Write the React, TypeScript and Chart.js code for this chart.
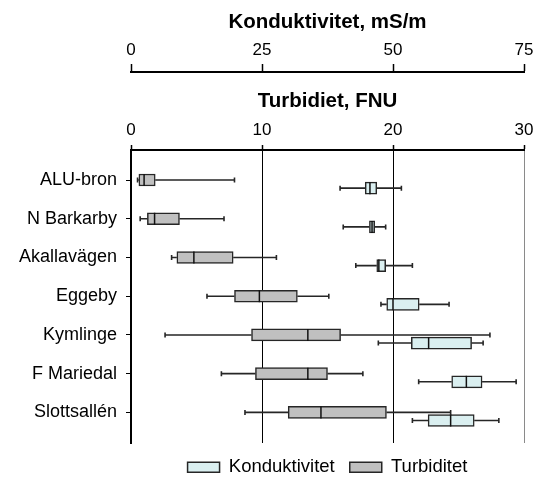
import React, { useEffect, useRef } from 'react';
import { Chart, registerables } from 'chart.js';

Chart.register(...registerables);

const categories = ['ALU-bron', 'N Barkarby', 'Akallavägen', 'Eggeby', 'Kymlinge', 'F Mariedal', 'Slottsallén'];

// Turbiditet, FNU
const turbMin = [0.5, 0.7, 3.1, 5.8, 2.6, 6.9, 8.7];
const turbQ1 = [0.6, 1.25, 3.5, 7.9, 9.2, 9.5, 12.0];
const turbMed = [1.0, 1.8, 4.8, 9.8, 13.5, 13.5, 14.5];
const turbQ3 = [1.85, 3.7, 7.8, 12.7, 16.0, 15.0, 19.5];
const turbMax = [7.9, 7.1, 11.1, 15.1, 27.4, 17.7, 24.4];

// Konduktivitet, mS/m
const condMin = [39.9, 40.5, 42.9, 47.7, 47.2, 54.9, 53.7];
const condQ1 = [44.7, 45.5, 46.9, 48.8, 53.5, 61.2, 56.7];
const condMed = [45.6, 46.0, 47.3, 50.0, 56.8, 64.0, 61.0];
const condQ3 = [46.9, 46.5, 48.6, 55.0, 65.0, 67.0, 65.5];
const condMax = [51.6, 48.6, 53.7, 60.7, 67.2, 73.5, 70.2];

const turbTicks = [0, 10, 20, 30];
const condTicks = [0, 25, 50, 75];

const COND_OFFSET = 0.21;

const whiskerPlugin = {
  id: 'boxWhiskers',
  afterDatasetsDraw(chart: any) {
    const ctx = chart.ctx;
    const series = [
      { ds: 0, axis: 'x2', min: condMin, med: condMed, max: condMax, q1: condQ1, q3: condQ3 },
      { ds: 1, axis: 'x', min: turbMin, med: turbMed, max: turbMax, q1: turbQ1, q3: turbQ3 },
    ];
    ctx.save();
    series.forEach((s) => {
      const xs = chart.scales[s.axis];
      const meta = chart.getDatasetMeta(s.ds);
      meta.data.forEach((bar: any, i: number) => {
        const { y, height } = bar.getProps(['y', 'height'], true);
        const top = y - height / 2;
        const bottom = y + height / 2;
        const pMin = xs.getPixelForValue(s.min[i]);
        const pQ1 = xs.getPixelForValue(s.q1[i]);
        const pMed = xs.getPixelForValue(s.med[i]);
        const pQ3 = xs.getPixelForValue(s.q3[i]);
        const pMax = xs.getPixelForValue(s.max[i]);
        ctx.strokeStyle = '#262626';
        ctx.lineWidth = 1.6;
        ctx.beginPath();
        ctx.moveTo(pMin, y);
        ctx.lineTo(pQ1, y);
        ctx.moveTo(pQ3, y);
        ctx.lineTo(pMax, y);
        ctx.moveTo(pMin, y - 2.5);
        ctx.lineTo(pMin, y + 2.5);
        ctx.moveTo(pMax, y - 2.5);
        ctx.lineTo(pMax, y + 2.5);
        ctx.stroke();
        ctx.strokeStyle = '#111';
        ctx.lineWidth = 1.5;
        ctx.beginPath();
        ctx.moveTo(pMed, top);
        ctx.lineTo(pMed, bottom);
        ctx.stroke();
      });
    });
    ctx.restore();
  },
};

export default function App() {
  const canvasRef = useRef<HTMLCanvasElement | null>(null);

  useEffect(() => {
    if (!canvasRef.current) return;
    Chart.defaults.font.family = "'Liberation Sans', Arial, sans-serif";
    Chart.defaults.color = '#000';
    const chart = new Chart(canvasRef.current, {
      type: 'bar',
      data: {
        datasets: [
          {
            label: 'Konduktivitet',
            xAxisID: 'x2',
            yAxisID: 'y',
            data: categories.map((_, i) => ({ y: i + COND_OFFSET, x: [condQ1[i], condQ3[i]] })) as any,
            backgroundColor: '#DAEFF0',
            borderColor: '#262626',
            borderWidth: 1.5,
            borderSkipped: false,
            barThickness: 12,
            grouped: false,
          } as any,
          {
            label: 'Turbiditet',
            xAxisID: 'x',
            yAxisID: 'y',
            data: categories.map((_, i) => ({ y: i, x: [turbQ1[i], turbQ3[i]] })) as any,
            backgroundColor: '#C0C0C0',
            borderColor: '#262626',
            borderWidth: 1.5,
            borderSkipped: false,
            barThickness: 12,
            grouped: false,
          } as any,
        ],
      },
      options: {
        indexAxis: 'y',
        animation: false,
        responsive: false,
        devicePixelRatio: 1,
        layout: { padding: { top: 0, left: 0, right: 19, bottom: -9.5 } },
        plugins: {
          tooltip: { enabled: false },
          legend: {
            position: 'bottom',
            fullSize: false,
            labels: {
              boxWidth: 32,
              boxHeight: 10,
              padding: 15,
              color: '#000',
              font: { size: 18.5 },
            },
          },
        },
        scales: {
          x: {
            type: 'linear',
            position: 'top',
            weight: 0,
            min: 0,
            max: 30,
            afterBuildTicks: (s: any) => {
              s.ticks = turbTicks.map((v) => ({ value: v }));
            },
            ticks: { color: '#000', font: { size: 17 }, padding: 4, maxRotation: 0 },
            grid: {
              drawOnChartArea: true,
              color: (c: any) => (c.tick && c.tick.value === 30 ? '#8a8a8a' : '#000'),
              lineWidth: 1,
              tickLength: 5,
              tickColor: '#000',
              tickWidth: 1.5,
            },
            border: { display: true, color: '#000', width: 2 },
            title: {
              display: true,
              text: 'Turbidiet, FNU',
              color: '#000',
              font: { size: 20.5, weight: 'bold' },
              padding: { top: 17, bottom: 0 },
            },
            afterFit: (s: any) => {
              s.height = 78;
            },
          },
          x2: {
            type: 'linear',
            position: 'top',
            weight: 1,
            min: 0,
            max: 75,
            afterBuildTicks: (s: any) => {
              s.ticks = condTicks.map((v) => ({ value: v }));
            },
            ticks: { color: '#000', font: { size: 17 }, padding: 3, maxRotation: 0 },
            grid: { drawOnChartArea: false, tickLength: 8, color: '#000', tickColor: '#000', tickWidth: 1.5 },
            border: { display: true, color: '#000', width: 2 },
            title: {
              display: true,
              text: 'Konduktivitet, mS/m',
              color: '#000',
              font: { size: 20.5, weight: 'bold' },
              padding: { top: 10, bottom: 0 },
            },
            afterFit: (s: any) => {
              s.height = 72;
            },
          },
          y: {
            type: 'linear',
            position: 'left',
            reverse: true,
            offset: false,
            min: -0.775,
            max: 6.79,
            afterBuildTicks: (s: any) => {
              s.ticks = categories.map((_, i) => ({ value: i }));
            },
            ticks: {
              color: '#000',
              font: { size: 18 },
              padding: 9,
              callback: (v: any) => categories[v as number],
            },
            grid: { drawOnChartArea: false, offset: false, tickLength: 5, color: '#000' },
            border: { display: true, color: '#000', width: 2 },
            afterFit: (s: any) => {
              s.width = 131;
            },
          },
        },
      } as any,
      plugins: [whiskerPlugin],
    });
    return () => chart.destroy();
  }, []);

  return (
    <div style={{ position: 'fixed', left: 0, top: 0, width: 543, height: 477, background: '#fff' }}>
      <canvas ref={canvasRef} width={543} height={477} style={{ display: 'block' }} />
    </div>
  );
}
